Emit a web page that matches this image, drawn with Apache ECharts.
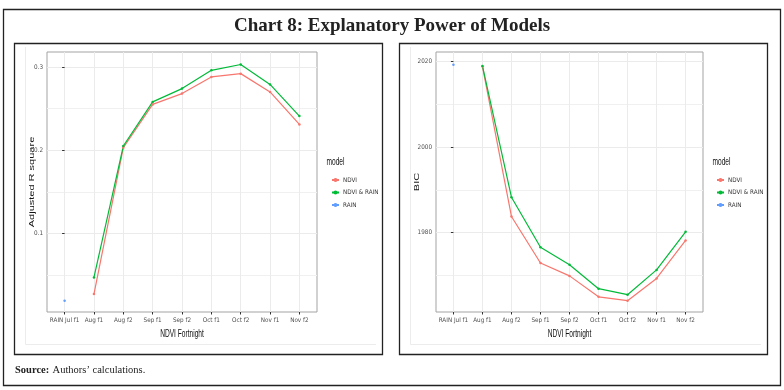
<!DOCTYPE html>
<html><head><meta charset="utf-8">
<script src="https://cdn.jsdelivr.net/npm/echarts@6/dist/echarts.min.js"></script>
<style>html,body{margin:0;padding:0;background:#fff}#c{width:784px;height:390px}</style>
</head><body><div id="c"></div><script>
const categories = ['RAIN Jul f1','Aug f1','Aug f2','Sep f1','Sep f2','Oct f1','Oct f2','Nov f1','Nov f2'];
const seriesNames = ['NDVI','NDVI & RAIN','RAIN'];
const seriesColors = ['#F8766D','#00BA38','#619CFF'];
// Adjusted R square
const r2Ndvi     = [null,0.027,0.203,0.255,0.268,0.288,0.292,0.270,0.231];
const r2NdviRain = [null,0.047,0.205,0.258,0.274,0.296,0.303,0.279,0.241];
const r2Rain     = [0.019,null,null,null,null,null,null,null,null];
// BIC
const bicNdvi     = [null,2018.9,1983.8,1972.9,1969.9,1965.0,1964.1,1969.3,1978.2];
const bicNdviRain = [null,2019.0,1988.3,1976.6,1972.5,1966.9,1965.5,1971.3,1980.2];
const bicRain     = [2019.3,null,null,null,null,null,null,null,null];
// tick labels
const r2Ticks = [0.1,0.2,0.3];
const r2Minor = [0.05,0.15,0.25];
const bicTicks = [1980,2000,2020];
const bicMinor = [1970,1990,2010];
const catIdx = categories.map((c,i)=>i);

const NARROW = '"Liberation Sans Narrow","DejaVu Sans Condensed","Arial Narrow",sans-serif';
const GRID_C = '#ebebeb';

function pts(arr){ return arr.map((v,i)=>v==null?null:[i,v]).filter(d=>d); }

function xAxisFor(g){
  return {
    type:'value', gridIndex:g, min:-0.6, max:8.6,
    axisLine:{show:false},
    axisTick:{show:true, customValues:catIdx, length:2.5, lineStyle:{color:'#333',width:1}},
    axisLabel:{customValues:catIdx, formatter:v=>categories[Math.round(v)]||'', fontFamily:NARROW, fontSize:6.3, color:'#4d4d4d', margin:5},
    splitLine:{show:true, lineStyle:{color:GRID_C,width:1}}
  };
}
function yAxisMajor(g,min,max,ticks,fmt){
  return {
    type:'value', gridIndex:g, min:min, max:max, position:'left',
    axisLine:{show:false},
    axisTick:{show:true, customValues:ticks, length:2.5, lineStyle:{color:'#333',width:1}},
    axisLabel:{customValues:ticks, formatter:fmt, fontFamily:NARROW, fontSize:6.3, color:'#4d4d4d', margin:4},
    splitLine:{show:true, lineStyle:{color:GRID_C,width:1}}
  };
}
function yAxisMinor(g,min,max,ticks){
  return {
    type:'value', gridIndex:g, min:min, max:max, position:'left',
    axisLine:{show:false},
    axisTick:{show:false, customValues:ticks},
    axisLabel:{show:false},
    splitLine:{show:true, lineStyle:{color:'#f0f0f0',width:1}}
  };
}
function lineSeries(name,color,data,xi,yi){
  return {name:name, type:'line', xAxisIndex:xi, yAxisIndex:yi, data:pts(data),
    symbol:'circle', symbolSize:2.5, showSymbol:true, silent:true,
    lineStyle:{color:color,width:1.2}, itemStyle:{color:color}, z:5};
}

const chart = echarts.init(document.getElementById('c'), null, {renderer:'canvas'});
const option = {
  animation:false,
  backgroundColor:'#fff',
  grid:[
    {left:47, top:52, width:270, height:260, show:true, borderColor:'#a3a3a3', borderWidth:1, backgroundColor:'transparent', containLabel:false},
    {left:436, top:52, width:267, height:260, show:true, borderColor:'#a3a3a3', borderWidth:1, backgroundColor:'transparent', containLabel:false}
  ],
  xAxis:[xAxisFor(0), xAxisFor(1)],
  yAxis:[
    yAxisMajor(0,0.0055,0.318,r2Ticks,v=>v.toFixed(1)),
    yAxisMinor(0,0.0055,0.318,r2Minor),
    yAxisMajor(1,1961.45,2022.27,bicTicks,v=>String(Math.round(v))),
    yAxisMinor(1,1961.45,2022.27,bicMinor)
  ],
  legend:[
    {left:326, top:172, orient:'vertical', itemWidth:7, itemHeight:5, itemGap:6.5, data:seriesNames,
     textStyle:{fontFamily:NARROW, fontSize:6.3, color:'#333', padding:[0,0,0,-1]}, selectedMode:false},
    {left:711, top:172, orient:'vertical', itemWidth:7, itemHeight:5, itemGap:6.5, data:seriesNames,
     textStyle:{fontFamily:NARROW, fontSize:6.3, color:'#333', padding:[0,0,0,-1]}, selectedMode:false}
  ],
  series:[
    lineSeries(seriesNames[0],seriesColors[0],r2Ndvi,0,0),
    lineSeries(seriesNames[1],seriesColors[1],r2NdviRain,0,0),
    lineSeries(seriesNames[2],seriesColors[2],r2Rain,0,0),
    lineSeries(seriesNames[0],seriesColors[0],bicNdvi,1,2),
    lineSeries(seriesNames[1],seriesColors[1],bicNdviRain,1,2),
    lineSeries(seriesNames[2],seriesColors[2],bicRain,1,2)
  ],
  graphic:[
    {type:'rect', shape:{x:3.5,y:9.5,width:777,height:376}, style:{fill:null,stroke:'#222',lineWidth:1.3}, silent:true},
    {type:'text', x:392, y:26, style:{text:'Chart 8: Explanatory Power of Models', font:'bold 19px "Liberation Serif","DejaVu Serif",serif', fill:'#222', align:'center', verticalAlign:'middle'}},
    {type:'rect', shape:{x:14.5,y:43.5,width:368,height:311}, style:{fill:null,stroke:'#222',lineWidth:1.3}, silent:true},
    {type:'rect', shape:{x:399.5,y:43.5,width:368,height:311}, style:{fill:null,stroke:'#222',lineWidth:1.3}, silent:true},
    // faint image frames
    {type:'polyline', shape:{points:[[25.5,47],[25.5,344.5],[376,344.5]]}, style:{stroke:'#ececec',lineWidth:1,fill:null}, silent:true},
    {type:'polyline', shape:{points:[[410.5,47],[410.5,344.5],[761,344.5]]}, style:{stroke:'#ececec',lineWidth:1,fill:null}, silent:true},
    // axis titles
    {type:'text', x:182, y:334, scaleX:0.6, style:{text:'NDVI Fortnight', font:'11px "Liberation Sans",Arial,sans-serif', fill:'#111', align:'center', verticalAlign:'middle'}},
    {type:'text', x:569.5, y:334, scaleX:0.6, style:{text:'NDVI Fortnight', font:'11px "Liberation Sans",Arial,sans-serif', fill:'#111', align:'center', verticalAlign:'middle'}},
    {type:'text', x:32, y:182, rotation:Math.PI/2, scaleY:0.6, style:{text:'Adjusted R square', font:'11px "Liberation Sans",Arial,sans-serif', fill:'#111', align:'center', verticalAlign:'middle'}},
    {type:'text', x:417.5, y:182, rotation:Math.PI/2, scaleY:0.6, style:{text:'BIC', font:'11px "Liberation Sans",Arial,sans-serif', fill:'#111', align:'center', verticalAlign:'middle'}},
    // legend titles
    {type:'text', x:326.5, y:162, scaleX:0.6, style:{text:'model', font:'11px "Liberation Sans",Arial,sans-serif', fill:'#111', align:'left', verticalAlign:'middle'}},
    {type:'text', x:712.5, y:162, scaleX:0.6, style:{text:'model', font:'11px "Liberation Sans",Arial,sans-serif', fill:'#111', align:'left', verticalAlign:'middle'}},
    // source
    {type:'text', x:15, y:370, style:{rich:{b:{font:'bold 10.5px "Liberation Serif","DejaVu Serif",serif', fill:'#222'}, r:{font:'10.5px "Liberation Serif","DejaVu Serif",serif', fill:'#222'}}, text:'{b|Source:} {r|Authors\u2019 calculations.}', verticalAlign:'middle'}}
  ]
};
chart.setOption(option);
</script></body></html>
